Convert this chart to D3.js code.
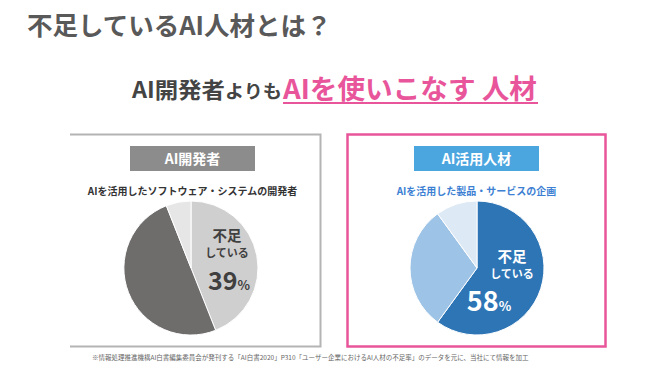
<!DOCTYPE html>
<html>
<head>
<meta charset="utf-8">
<script src="https://cdn.jsdelivr.net/npm/d3@7"></script>
<style>
  body { margin: 0; background: #fff; }
  text { font-family: "Noto Sans CJK JP", "Noto Sans", sans-serif; }
</style>
</head>
<body>
<div id="root"></div>
<script>
// 左: AI開発者 / 右: AI活用人材 (slice shares)
var devShares = [44, 50, 6];
var useShares = [60, 30, 10];
var devColors = ['#d0cfcf', '#6f6c6c', '#e6e6e6'];
var useColors = ['#2e75b6', '#9dc3e6', '#dde9f5'];
var panelTitles = ['AI開発者', 'AI活用人材'];
var panelSubs = ['AIを活用したソフトウェア・システムの開発者', 'AIを活用した製品・サービスの企画'];
var shortValues = ['39', '58'];

window.onload = function () {
    var svg = d3.select('#root')
        .append('svg')
        .attr('width', 670)
        .attr('height', 377);

    // 見出し
    svg.append('text')
        .attr('x', 27).attr('y', 35)
        .attr('font-size', 25.5).attr('font-weight', 700)
        .attr('fill', '#595959')
        .text('不足しているAI人材とは？');

    var head = svg.append('text')
        .attr('x', 132).attr('y', 98)
        .attr('font-weight', 700)
        .attr('textLength', 150).attr('lengthAdjust', 'spacingAndGlyphs');
    head.append('tspan').attr('font-size', 22).attr('fill', '#444').text('AI開発者');
    head.append('tspan').attr('font-size', 18).attr('fill', '#444').text('よりも');
    svg.append('text')
        .attr('x', 283).attr('y', 99)
        .attr('font-size', 27).attr('font-weight', 700).attr('fill', '#e8559a')
        .attr('textLength', 254).attr('lengthAdjust', 'spacingAndGlyphs')
        .text('AIを使いこなす 人材');
    svg.append('line')
        .attr('x1', 283).attr('x2', 538)
        .attr('y1', 103).attr('y2', 103)
        .attr('stroke', '#e8559a').attr('stroke-width', 2.2);

    // パネル枠
    svg.append('path')
        .attr('d', 'M70,134.5 H320.5 V346.5 H70')
        .attr('fill', 'none').attr('stroke', '#b4b4b4').attr('stroke-width', 2);
    svg.append('rect')
        .attr('x', 347.5).attr('y', 134.5).attr('width', 258).attr('height', 212)
        .attr('fill', 'none').attr('stroke', '#e8559a').attr('stroke-width', 2.5);

    var panels = [
        { cx: 191, cy: 268, r: 67, boxX: 130, boxFill: '#8c8c8c', subFill: '#333', shares: devShares, colors: devColors, labelFill: '#404040', lx: 227, ly: 241, px: 229, py: 290, ps: 25 },
        { cx: 477, cy: 268, r: 67, boxX: 414, boxFill: '#4ba5df', subFill: '#3d7fd3', shares: useShares, colors: useColors, labelFill: '#fff', lx: 512, ly: 262, px: 489, py: 311, ps: 27 }
    ];

    var pie = d3.pie().sort(null).value(function (d) { return d; });
    var arc = d3.arc().innerRadius(0);

    panels.forEach(function (p, i) {
        var g = svg.append('g');
        g.append('rect')
            .attr('x', p.boxX).attr('y', 146).attr('width', 125).attr('height', 25)
            .attr('fill', p.boxFill);
        g.append('text')
            .attr('x', p.boxX + 62.5).attr('y', 164)
            .attr('text-anchor', 'middle')
            .attr('font-size', 14).attr('font-weight', 700).attr('fill', '#fff')
            .text(panelTitles[i]);
        g.append('text')
            .attr('x', p.boxX + 62.5).attr('y', 195)
            .attr('text-anchor', 'middle')
            .attr('font-size', 10).attr('font-weight', 700).attr('fill', p.subFill)
            .text(panelSubs[i]);

        g.append('g')
            .attr('transform', 'translate(' + p.cx + ',' + p.cy + ')')
            .selectAll('path')
            .data(pie(p.shares))
            .enter()
            .append('path')
            .attr('d', arc.outerRadius(p.r))
            .attr('fill', function (d, j) { return p.colors[j]; })
            .attr('stroke', '#fff')
            .attr('stroke-width', 1);

        g.append('text')
            .attr('x', p.lx).attr('y', p.ly)
            .attr('text-anchor', 'middle')
            .attr('font-size', 14.5).attr('font-weight', 700).attr('fill', p.labelFill)
            .text('不足');
        g.append('text')
            .attr('x', p.lx).attr('y', p.ly + 16)
            .attr('text-anchor', 'middle')
            .attr('font-size', 11).attr('font-weight', 700).attr('fill', p.labelFill)
            .text('している');
        var pct = g.append('text')
            .attr('x', p.px).attr('y', p.py)
            .attr('text-anchor', 'middle')
            .attr('font-weight', 700).attr('fill', p.labelFill);
        pct.append('tspan').attr('font-size', p.ps).text(shortValues[i]);
        pct.append('tspan').attr('font-size', 13).text('%');
    });

    // 出典
    svg.append('text')
        .attr('x', 92).attr('y', 360)
        .attr('font-size', 6.5).attr('fill', '#666')
        .text('※情報処理推進機構AI白書編集委員会が発刊する「AI白書2020」P310「ユーザー企業におけるAI人材の不足率」のデータを元に、当社にて情報を加工');
};
</script>
</body>
</html>
